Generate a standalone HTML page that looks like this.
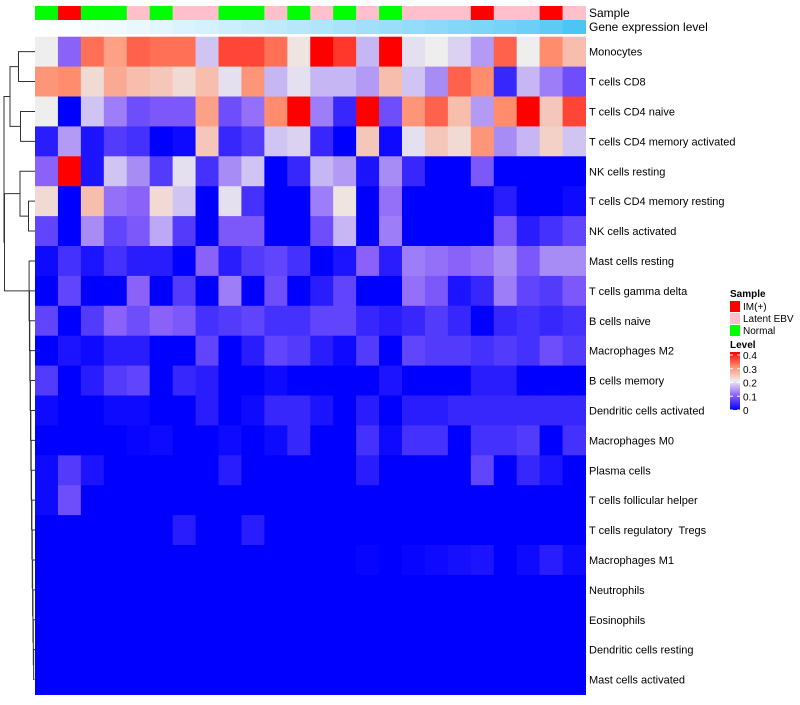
<!DOCTYPE html>
<html><head><meta charset="utf-8"><style>
body{margin:0;background:#fff;width:800px;height:700px;overflow:hidden;font-family:"Liberation Sans",sans-serif}
svg text{font-family:"Liberation Sans",sans-serif;white-space:pre}
</style></head><body>
<svg id="chart" width="800" height="700"></svg>
<script>
const rowLabels=["Monocytes","T cells CD8","T cells CD4 naive","T cells CD4 memory activated","NK cells resting","T cells CD4 memory resting","NK cells activated","Mast cells resting","T cells gamma delta","B cells naive","Macrophages M2","B cells memory","Dendritic cells activated","Macrophages M0","Plasma cells","T cells follicular helper","T cells regulatory  Tregs","Macrophages M1","Neutrophils","Eosinophils","Dendritic cells resting","Mast cells activated"];
const sampleTypes=["Normal","IM(+)","Normal","Normal","Latent EBV","Normal","Latent EBV","Latent EBV","Normal","Normal","Latent EBV","Normal","Latent EBV","Normal","Latent EBV","Normal","Latent EBV","Latent EBV","Latent EBV","IM(+)","Latent EBV","Latent EBV","IM(+)","Latent EBV"];
const geneLevel=[0,0.02,0.06,0.09,0.12,0.16,0.2,0.24,0.28,0.32,0.36,0.4,0.44,0.48,0.52,0.56,0.6,0.64,0.68,0.72,0.76,0.82,0.9,1];
const r0=[0.2,0.1,0.32,0.28,0.33,0.32,0.32,0.17,0.35,0.35,0.32,0.21,0.4,0.36,0.16,0.4,0.19,0.2,0.18,0.14,0.33,0.2,0.3,0.25];
const r1=[0.29,0.3,0.22,0.27,0.25,0.24,0.22,0.25,0.19,0.29,0.16,0.19,0.16,0.16,0.14,0.25,0.17,0.13,0.33,0.3,0.04,0.16,0.12,0.08];
const r2=[0.2,0,0.17,0.12,0.08,0.09,0.09,0.28,0.08,0.11,0.3,0.4,0.12,0.04,0.4,0.08,0.29,0.33,0.25,0.14,0.3,0.4,0.24,0.35];
const r3=[0.03,0.14,0.02,0.06,0.05,0,0.01,0.24,0.04,0.06,0.17,0.18,0.04,0,0.24,0.01,0.19,0.24,0.22,0.29,0.13,0.16,0.23,0.17];
const r4=[0.1,0.4,0.02,0.17,0.13,0.06,0.19,0.05,0.13,0.17,0,0.04,0.16,0.14,0.02,0.13,0.04,0,0,0.09,0,0,0,0];
const r5=[0.22,0,0.25,0.11,0.1,0.22,0.17,0,0.19,0.05,0,0,0.12,0.21,0,0.11,0,0,0,0,0.03,0,0,0.01];
const r6=[0.07,0,0.13,0.07,0.09,0.15,0.06,0,0.09,0.09,0,0,0.08,0.16,0,0.12,0,0,0,0,0.09,0.03,0.05,0.07];
const r7=[0.01,0.05,0.02,0.05,0.03,0.03,0,0.1,0.03,0.06,0.07,0.05,0,0.02,0.1,0.03,0.12,0.11,0.1,0.11,0.13,0.09,0.13,0.13];
const r8=[0,0.07,0,0,0.1,0,0.06,0,0.12,0,0.08,0,0.03,0.07,0,0,0.11,0.09,0.02,0.04,0.12,0.07,0.06,0.09];
const r9=[0.07,0,0.06,0.1,0.08,0.1,0.09,0.05,0.06,0.07,0.05,0.05,0.07,0.07,0.04,0.03,0.04,0.06,0.04,0,0.04,0.05,0.04,0.05];
const r10=[0,0.02,0.01,0.03,0.03,0,0,0.07,0,0.03,0.07,0.06,0.03,0.01,0.06,0,0.07,0.06,0.06,0.05,0.06,0.05,0.08,0.06];
const r11=[0.06,0,0.03,0.06,0.07,0,0.04,0.03,0,0,0.01,0,0,0,0,0.02,0,0,0,0.03,0.03,0,0,0];
const r12=[0.01,0,0,0.01,0.01,0,0,0.03,0,0.01,0.04,0.04,0.02,0,0.03,0,0.03,0.03,0.04,0.04,0.04,0.04,0.04,0.04];
const r13=[0,0,0,0,0.005,0.01,0,0,0.01,0,0.01,0.04,0,0,0.05,0.01,0.05,0.05,0,0.05,0.05,0.06,0,0.05];
const r14=[0.01,0.06,0.02,0,0,0,0,0,0.03,0,0,0,0,0,0.03,0,0,0,0,0.07,0,0.04,0.02,0];
const r15=[0.01,0.08,0,0,0,0,0,0,0,0,0,0,0,0,0,0,0,0,0,0,0,0,0,0];
const r16=[0,0,0,0,0,0,0.03,0,0,0.03,0,0,0,0,0,0,0,0,0,0,0,0,0,0];
const r17=[0,0,0,0,0,0,0,0,0,0,0,0,0,0,0.005,0,0.005,0.01,0.015,0.02,0,0.01,0.03,0.01];
const r18=[0,0,0,0,0,0,0,0,0,0,0,0,0,0,0,0,0,0,0,0,0,0,0,0];
const r19=[0,0,0,0,0,0,0,0,0,0,0,0,0,0,0,0,0,0,0,0,0,0,0,0];
const r20=[0,0,0,0,0,0,0,0,0,0,0,0,0,0,0,0,0,0,0,0,0,0,0,0];
const r21=[0,0,0,0,0,0,0,0,0,0,0,0,0,0,0,0,0,0,0,0,0,0,0,0];
const values=[r0,r1,r2,r3,r4,r5,r6,r7,r8,r9,r10,r11,r12,r13,r14,r15,r16,r17,r18,r19,r20,r21];
const legendTicks=[0,0.1,0.2,0.3,0.4];

const NS="http://www.w3.org/2000/svg";
const svg=document.getElementById('chart');
function mk(tag,attrs,parent){const e=document.createElementNS(NS,tag);for(const k in attrs)e.setAttribute(k,attrs[k]);(parent||svg).appendChild(e);return e;}
const X0=35,X1=585.5,Y0=36.7,Y1=694.5;
const nC=24,nR=rowLabels.length;
const cw=(X1-X0)/nC, rh=(Y1-Y0)/nR;
const xS=i=>X0+i*cw, yS=j=>Y0+j*rh;
function lerp(a,b,t){return Math.round(a+(b-a)*t);}
const stops=[[0,[0,0,255]],[0.25,[138,98,250]],[0.5,[238,238,238]],[0.75,[255,140,108]],[1,[255,0,0]]];
function col(v){const t=Math.max(0,Math.min(1,v/0.4));
 for(let k=0;k<stops.length-1;k++){const a=stops[k],b=stops[k+1];
  if(t<=b[0]){const u=(t-a[0])/(b[0]-a[0]);return `rgb(${lerp(a[1][0],b[1][0],u)},${lerp(a[1][1],b[1][1],u)},${lerp(a[1][2],b[1][2],u)})`;}}
 return 'rgb(255,0,0)';}
const sampleColor={"IM(+)":"#ff0000","Latent EBV":"#ffc0cb","Normal":"#00ff00"};
function geneCol(g){return `rgb(${lerp(255,76,g)},${lerp(255,196,g)},${lerp(255,245,g)})`;}

const gCells=mk('g',{});


values.forEach((row,j)=>row.forEach((v,i)=>{
 const r=mk('rect',{x:xS(i),y:yS(j),width:cw+0.5,height:rh+0.5,fill:col(v)},gCells);
 
 
}));
sampleTypes.forEach((s,i)=>{
 const r=mk('rect',{x:xS(i),y:6,width:cw+0.5,height:14,fill:sampleColor[s]});
 
 
});
geneLevel.forEach((g,i)=>{
 const r=mk('rect',{x:xS(i),y:20,width:cw+0.5,height:14,fill:geneCol(g)});
 
 
});
let t=mk('text',{x:589,y:17,'font-size':12});t.textContent='Sample';

t=mk('text',{x:589,y:31,'font-size':12});t.textContent='Gene expression level';

rowLabels.forEach((l,j)=>{
 const e=mk('text',{x:589,y:yS(j)+rh/2+4,'font-size':11});
 e.textContent=l;
 
 
});
const cy=j=>yS(j)+rh/2;
const dg=mk('g',{stroke:'#333','stroke-width':1,fill:'none'});


function link(xa,ya,xb,yb,xm){mk('path',{d:`M${xa},${ya}H${xm}V${yb}H${xb}`},dg);}
link(35,cy(0),35,cy(1),18.5);
link(35,cy(2),35,cy(3),20.5);
link(18.5,(cy(0)+cy(1))/2,20.5,(cy(2)+cy(3))/2,10);
link(35,cy(5),35,cy(6),28.5);
link(35,cy(4),28.5,(cy(5)+cy(6))/2,20);
let prevY=cy(21),prevX=34.5;
for(let j=20;j>=7;j--){const xm=34-(21-j)*0.35;link(35,cy(j),prevX,prevY,xm);prevY=(cy(j)+prevY)/2;prevX=xm;}
link(20,(cy(4)+(cy(5)+cy(6))/2)/2,prevX,prevY,4.5);
link(10,(cy(0)+cy(3))/2,4.5,((cy(4)+(cy(5)+cy(6))/2)/2+prevY)/2,4);
t=mk('text',{x:730,y:297,'font-size':10,'font-weight':'bold'});t.textContent='Sample';

[["IM(+)","#ff0000"],["Latent EBV","#ffc0cb"],["Normal","#00ff00"]].forEach((p,k)=>{
 const r=mk('rect',{x:730,y:301+k*12,width:10,height:11,fill:p[1]});
 
 const e=mk('text',{x:743,y:310+k*12,'font-size':10});e.textContent=p[0];
 
});
t=mk('text',{x:730,y:348,'font-size':10,'font-weight':'bold'});t.textContent='Level';

const defs=mk('defs',{});
const lg=mk('linearGradient',{id:'lvl',x1:0,y1:1,x2:0,y2:0},defs);
[0,0.125,0.25,0.375,0.5,0.625,0.75,0.875,1].forEach(o=>mk('stop',{offset:o,'stop-color':col(o*0.4)},lg));
const bar=mk('rect',{x:730,y:352,width:10,height:58,fill:'url(#lvl)'});

legendTicks.forEach(v=>{
 const y=410-(v/0.4)*55;
 mk('line',{x1:730,x2:733,y1:y,y2:y,stroke:'#fff'});
 mk('line',{x1:737,x2:740,y1:y,y2:y,stroke:'#fff'});
 const e=mk('text',{x:743,y:y+4,'font-size':10});e.textContent=v===0?'0':v.toFixed(1);
 
});
</script>
</body></html>
